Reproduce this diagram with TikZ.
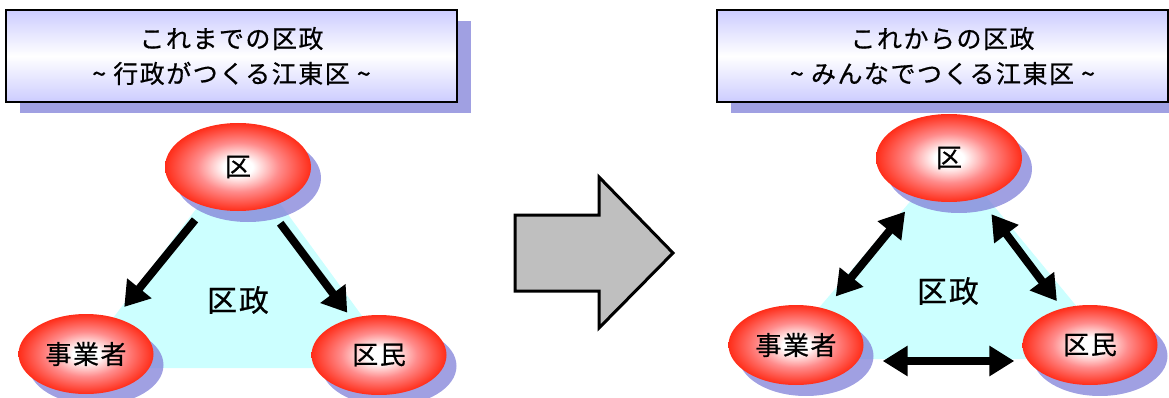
\documentclass[tikz,border=0pt]{standalone}
\usepackage{fontspec}
\setmainfont[LetterSpace=6,FakeBold=0.6]{Noto Sans CJK JP}
\usepackage{tikz}
\usetikzlibrary{shapes.geometric,shadows,arrows.meta}

\definecolor{lavshadow}{RGB}{128,128,216}
\definecolor{lavtop}{RGB}{204,204,255}
\definecolor{areacyan}{RGB}{204,255,255}
\definecolor{ballred}{RGB}{255,45,25}
\definecolor{ballpink}{RGB}{255,140,140}
\pgfdeclareradialshading{redball}{\pgfpoint{0bp}{0bp}}{color(0bp)=(white); color(5bp)=(white); color(14bp)=(ballpink); color(25bp)=(ballred); color(50bp)=(ballred)}

\tikzset{
  titlebox/.style={draw,line width=2pt,rectangle,minimum width=451pt,minimum height=92pt,
    top color=lavtop,bottom color=lavtop,middle color=white,align=center,
    font=\fontsize{25}{35}\selectfont,
    drop shadow={shadow xshift=14pt,shadow yshift=-11pt,fill=lavshadow,opacity=0.75}},
  actor/.style={ellipse,shading=redball,minimum width=146pt,minimum height=88pt,inner sep=0pt,
    font=\fontsize{26}{26}\selectfont,
    drop shadow={shadow xshift=10pt,shadow yshift=-11pt,fill=lavshadow,opacity=0.75}},
  small actor/.style={actor,minimum width=135pt,minimum height=80pt},
  area/.style={fill=areacyan,draw=none},
  arealabel/.style={font=\fontsize{30}{30}\selectfont},
  oneway/.style={line width=8pt,-{Triangle[length=24pt,width=30pt]}},
  twoway/.style={line width=8pt,{Triangle[length=25pt,width=29pt]}-{Triangle[length=25pt,width=29pt]}},
  bigarrow/.style={draw,line width=3pt,fill=gray!50,line join=miter}
}

\begin{document}
\begin{tikzpicture}[x=1pt,y=-1pt]
\useasboundingbox (0,0) rectangle (1169,398);

% before
\fill[area] (241,150) -- (75,368) -- (400,368) -- cycle;
\node[titlebox] (oldtitle) at (231.5,56) {\rule{0pt}{6pt}これまでの区政\\\textasciitilde{} 行政がつくる江東区 \textasciitilde};
\node[actor] (ku) at (238,167) {区};
\node[small actor] (jigyo) at (86,354) {事業者};
\node[small actor] (kumin) at (379,355) {区民};
\node[arealabel] (oldarea) at (238,300) {区政};
\draw[oneway,shorten <=17pt,shorten >=14pt] (ku) -- (jigyo);
\draw[oneway,shorten <=20pt,shorten >=7pt] (ku) -- (kumin);

% change
\draw[bigarrow] (515,215) -- (599,215) -- (599,177) -- (673,253) -- (599,328) -- (599,291) -- (515,291) -- cycle;

% after
\fill[area] (951,154) -- (775,359) -- (1120,359) -- cycle;
\node[titlebox] (newtitle) at (942.5,56) {\rule{0pt}{6pt}これからの区政\\\textasciitilde{} みんなでつくる江東区 \textasciitilde};
\node[actor] (ku2) at (949,158) {区};
\node[small actor] (jigyo2) at (796,345) {事業者};
\node[small actor] (kumin2) at (1090,345) {区民};
\node[arealabel] (newarea) at (948,291) {区政};
\draw[twoway,shorten <=18pt,shorten >=16pt] (ku2) -- (jigyo2);
\draw[twoway,shorten <=20pt,shorten >=9pt] (ku2) -- (kumin2);
\draw[twoway,shorten <=19pt,shorten >=8pt] ([yshift=-16pt]jigyo2.east) -- ([yshift=-16pt]kumin2.west);
\end{tikzpicture}
\end{document}
